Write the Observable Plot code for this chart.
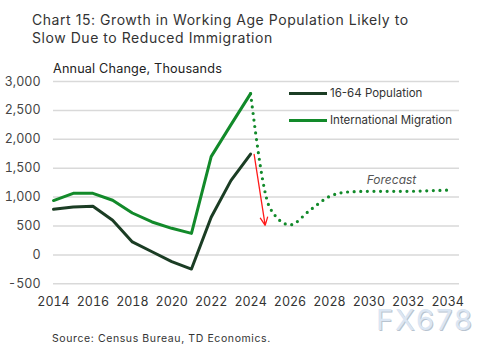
<!DOCTYPE html>
<html>
<head>
<meta charset="utf-8">
<script src="https://cdn.jsdelivr.net/npm/d3@7"></script>
<script src="https://cdn.jsdelivr.net/npm/@observablehq/plot@0.6"></script>
<style>
  html, body { margin: 0; padding: 0; background: #fff; }
  #wrap { position: relative; width: 504px; height: 355px; font-family: Inter, "Noto Sans", sans-serif; color: #333; overflow: hidden; }
  #title { position: absolute; left: 32px; top: 11px; font-size: 14px; line-height: 18px; letter-spacing: 0.55px; color: #333; }
  #sub { position: absolute; left: 53px; top: 61px; font-size: 12.7px; letter-spacing: 0.15px; color: #222; }
  #chart { position: absolute; left: 0; top: 50px; }
  .leg { position: absolute; left: 289px; font-size: 11.5px; color: #333; display: flex; align-items: center; }
  .leg span.sw { display: inline-block; width: 38px; height: 3px; margin-right: 3px; }
  #source { position: absolute; left: 52px; top: 332px; font-size: 10.5px; letter-spacing: 0.6px; color: #333; }
  #wm { position: absolute; left: 376px; top: 309px; font-size: 29px; line-height: 22px; color: #dbe6f3; letter-spacing: 2px; text-shadow: 1px 1px 0 #b9c4d0; }
</style>
</head>
<body>
<div id="wrap">
  <div id="title">Chart 15: Growth in Working Age Population Likely to<br>Slow Due to Reduced Immigration</div>
  <div id="sub">Annual Change, Thousands</div>
  <div id="chart"></div>
  <div class="leg" style="top:86px"><span class="sw" style="background:#1b3d24"></span>16-64 Population</div>
  <div class="leg" style="top:113px"><span class="sw" style="background:#128a2a"></span>International Migration</div>
  <div id="source">Source: Census Bureau, TD Economics.</div>
  <div id="wm">FX678</div>
</div>
<script>
// Historical data (thousands)
const years = [2014, 2015, 2016, 2017, 2018, 2019, 2020, 2021, 2022, 2023, 2024];
const population1664 = [790, 830, 840, 600, 225, 55, -115, -245, 650, 1285, 1745];
const migration = [940, 1065, 1065, 945, 725, 570, 460, 372, 1700, 2250, 2790];

// Forecast of international migration
const forecastYears = [2024, 2025, 2026, 2027, 2028, 2029, 2030, 2031, 2032, 2033, 2034];
const forecastMigration = [2790, 800, 520, 770, 1010, 1090, 1100, 1100, 1100, 1110, 1120];

// Red arrow annotation (from 16-64 end toward forecast)
const arrowFrom = {year: 2024.18, value: 1740};
const arrowTo = {year: 2024.74, value: 510};

const forecastLabel = [{year: 2031.15, value: 1300, text: "Forecast"}];

const yTicks = [-500, 0, 500, 1000, 1500, 2000, 2500, 3000];
const xTicks = [2014, 2016, 2018, 2020, 2022, 2024, 2026, 2028, 2030, 2032, 2034];

const popData = years.map((y, i) => ({year: y, value: population1664[i]}));
const migData = years.map((y, i) => ({year: y, value: migration[i]}));
const fcData = forecastYears.map((y, i) => ({year: y, value: forecastMigration[i]}));

const chart = Plot.plot({
  width: 504,
  height: 275,
  marginTop: 31,
  marginBottom: 41.7,
  marginLeft: 53,
  marginRight: 45,
  style: {fontFamily: "Inter, 'Noto Sans', sans-serif", fontSize: "12.5px", color: "#333", background: "transparent"},
  x: {domain: [2014, 2034.6]},
  y: {domain: [-500, 3000]},
  marks: [
    Plot.gridY(yTicks, {stroke: "#d9d9d9", strokeOpacity: 1, strokeWidth: 1.5}),
    Plot.axisY(yTicks, {tickSize: 0, tickPadding: 13, tickFormat: d => d.toLocaleString("en-US"), label: null, fill: "#444"}),
    Plot.axisX(xTicks, {tickSize: 0, tickPadding: 13, tickFormat: d => String(d), label: null, fill: "#333"}),
    Plot.line(fcData, {x: "year", y: "value", stroke: "#128a2a", strokeWidth: 3.2, strokeDasharray: "0,6.6", strokeLinecap: "round", curve: "monotone-x"}),
    Plot.line(migData, {x: "year", y: "value", stroke: "#128a2a", strokeWidth: 3}),
    Plot.line(popData, {x: "year", y: "value", stroke: "#1b3d24", strokeWidth: 3}),
    Plot.arrow([{x1: arrowFrom.year, y1: arrowFrom.value, x2: arrowTo.year, y2: arrowTo.value}], {x1: "x1", y1: "y1", x2: "x2", y2: "y2", stroke: "#ff1a1a", strokeWidth: 1.3, headLength: 10, headAngle: 50}),
    Plot.text(forecastLabel, {x: "year", y: "value", text: "text", fontStyle: "italic", fill: "#555", fontSize: 12})
  ]
});
document.getElementById("chart").appendChild(chart);
</script>
</body>
</html>
